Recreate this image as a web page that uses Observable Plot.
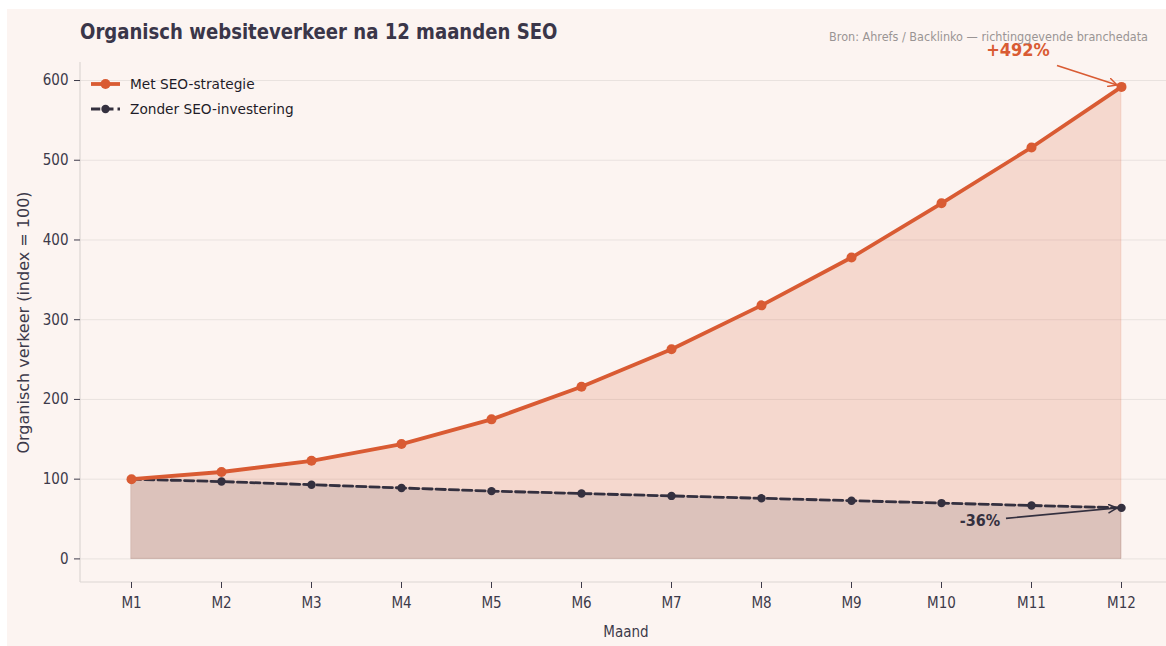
<!DOCTYPE html>
<html>
<head>
<meta charset="utf-8">
<script src="https://cdn.jsdelivr.net/npm/d3@7"></script>
<script src="https://cdn.jsdelivr.net/npm/@observablehq/plot@0.6"></script>
<style>
  html, body { margin: 0; padding: 0; background: #ffffff; overflow: hidden; width: 1166px; height: 646px; }
  #panel { position: absolute; left: 7px; top: 9px; width: 1159px; height: 637px; background: #fcf4f1; }
  #chart { position: absolute; left: 0; top: 0; width: 1166px; height: 646px; overflow: hidden; }
  #chart svg { max-width: none !important; width: 1171px !important; height: 646px !important; }
  #title { position: absolute; left: 80px; top: 19px; font-family: "DejaVu Sans Condensed", "DejaVu Sans", sans-serif; font-weight: bold; font-size: 22px; color: #3a3649; white-space: nowrap; transform: scaleX(0.914); transform-origin: left center; }
  #source { position: absolute; right: 18px; top: 29px; font-family: "DejaVu Sans Condensed", "DejaVu Sans", sans-serif; font-size: 12.5px; color: #9a9494; white-space: nowrap; }
  #legend { position: absolute; left: 89px; top: 71px; font-family: "DejaVu Sans", sans-serif; font-size: 13.7px; color: #1f1c28; }
  #legend .item { display: flex; align-items: center; height: 25px; }
  #legend svg { margin-right: 7px; }
</style>
</head>
<body>
<div id="panel"></div>
<div id="chart"></div>
<div id="title">Organisch websiteverkeer na 12 maanden SEO</div>
<div id="source">Bron: Ahrefs / Backlinko — richtinggevende branchedata</div>
<div id="legend"></div>
<script>
// ---- data ----
const months = ["M1","M2","M3","M4","M5","M6","M7","M8","M9","M10","M11","M12"];
const withSeo = [100, 109, 123, 144, 175, 216, 263, 318, 378, 446, 516, 592];
const withoutSeo = [100, 97, 93, 89, 85, 82, 79, 76, 73, 70, 67, 64];
const seriesNames = ["Met SEO-strategie", "Zonder SEO-investering"];
const yTicks = [0, 100, 200, 300, 400, 500, 600];
const annotations = [
  {label: "+492%", series: 0},
  {label: "-36%", series: 1}
];

// ---- styles ----
const ORANGE = "#d95b33";
const DARK = "#34303f";
const TEXT = "#3d3a4a";
const GRID = "#e9e2df";
const SPINE = "#dcd6d4";
const COND = "DejaVu Sans Condensed, DejaVu Sans, sans-serif";

const seo = months.map((m, i) => ({month: m, value: withSeo[i]}));
const noSeo = months.map((m, i) => ({month: m, value: withoutSeo[i]}));

const yDomain = [-29.6, 622.6];

function spines(index, scales, values, dims) {
  const g = d3.create("svg:g");
  const x0 = dims.marginLeft, x1 = dims.width - dims.marginRight;
  const y0 = dims.marginTop, y1 = dims.height - dims.marginBottom;
  g.append("line").attr("x1", x0).attr("x2", x0).attr("y1", y0).attr("y2", y1).attr("stroke", SPINE).attr("stroke-width", 1.2);
  g.append("line").attr("x1", x0).attr("x2", x1).attr("y1", y1).attr("y2", y1).attr("stroke", SPINE).attr("stroke-width", 1.2);
  return g.node();
}

function annotate(index, scales, values, dims) {
  const g = d3.create("svg:g");
  const defs = g.append("defs");
  [["a0", ORANGE], ["a1", DARK]].forEach(([id, c]) => {
    defs.append("marker").attr("id", id).attr("viewBox", "0 0 10 10").attr("refX", 9).attr("refY", 5)
      .attr("markerWidth", 10).attr("markerHeight", 10).attr("markerUnits", "userSpaceOnUse").attr("orient", "auto")
      .append("path").attr("d", "M0,0.5 L9,5 L0,9.5").attr("fill", "none").attr("stroke", c).attr("stroke-width", 1.5);
  });
  const last = months.length - 1;
  {
    const px = scales.x(months[last]), py = scales.y(withSeo[last]);
    g.append("line").attr("x1", px - 64).attr("y1", py - 21).attr("x2", px - 4).attr("y2", py - 1.5)
      .attr("stroke", ORANGE).attr("stroke-width", 1.6).attr("marker-end", "url(#a0)");
    g.append("text").attr("x", px - 103).attr("y", py - 30).attr("text-anchor", "middle")
      .attr("font-family", COND).attr("font-weight", "bold").attr("font-size", 18).attr("fill", ORANGE).text(annotations[0].label);
  }
  {
    const px = scales.x(months[last]), py = scales.y(withoutSeo[last]);
    g.append("line").attr("x1", px - 115).attr("y1", py + 11).attr("x2", px - 4).attr("y2", py + 0.5)
      .attr("stroke", DARK).attr("stroke-width", 1.6).attr("marker-end", "url(#a1)");
    g.append("text").attr("x", px - 141).attr("y", py + 19).attr("text-anchor", "middle")
      .attr("font-family", COND).attr("font-weight", "bold").attr("font-size", 16).attr("fill", DARK).text(annotations[1].label);
  }
  return g.node();
}

const chart = Plot.plot({
  width: 1171,
  height: 646,
  marginLeft: 80,
  marginRight: 0,
  marginTop: 62,
  marginBottom: 64,
  style: {background: "transparent", color: TEXT, fontFamily: COND, fontSize: "15px", overflow: "visible"},
  x: {type: "point", domain: months, padding: 0.55},
  y: {domain: yDomain, ticks: yTicks},
  marks: [
    Plot.ruleY(yTicks, {stroke: GRID, strokeWidth: 1}),
    Plot.areaY(seo, {x: "month", y: "value", fill: ORANGE, fillOpacity: 0.18, stroke: ORANGE, strokeOpacity: 0.12}),
    Plot.areaY(noSeo, {x: "month", y: "value", fill: DARK, fillOpacity: 0.13, stroke: DARK, strokeOpacity: 0.1}),
    spines,
    Plot.line(noSeo, {x: "month", y: "value", stroke: DARK, strokeWidth: 2.8, strokeDasharray: "9.25,4"}),
    Plot.dot(noSeo, {x: "month", y: "value", fill: DARK, r: 4.2, stroke: null}),
    Plot.line(seo, {x: "month", y: "value", stroke: ORANGE, strokeWidth: 3.8}),
    Plot.dot(seo, {x: "month", y: "value", fill: ORANGE, r: 5, stroke: null}),
    Plot.axisY({ticks: yTicks, tickSize: 6, tickPadding: 6, stroke: TEXT, fill: TEXT, fontSize: 15, label: null}),
    Plot.axisX({tickSize: 6, tickPadding: 9, stroke: TEXT, fill: TEXT, fontSize: 15, label: null}),
    Plot.text(["Organisch verkeer (index = 100)"], {frameAnchor: "left", dx: -57, rotate: -90, textAnchor: "middle", lineAnchor: "middle", fontSize: 16, fill: TEXT, fontFamily: "DejaVu Sans, sans-serif"}),
    Plot.text(["Maand"], {frameAnchor: "bottom", dy: 50, textAnchor: "middle", lineAnchor: "middle", fontSize: 15, fill: TEXT}),
    annotate
  ]
});
document.getElementById("chart").appendChild(chart);

// legend
const legend = document.getElementById("legend");
[[ORANGE, 3.8, null, 5, seriesNames[0]], [DARK, 2.8, "9.25,4", 4.2, seriesNames[1]]].forEach(([c, w, dash, r, name]) => {
  const item = document.createElement("div");
  item.className = "item";
  const s = d3.create("svg").attr("width", 34).attr("height", 14);
  s.append("line").attr("x1", 2).attr("x2", 31).attr("y1", 7).attr("y2", 7).attr("stroke", c).attr("stroke-width", w).attr("stroke-dasharray", dash);
  s.append("circle").attr("cx", 16.5).attr("cy", 7).attr("r", r).attr("fill", c);
  item.appendChild(s.node());
  const t = document.createElement("span");
  t.textContent = name;
  item.appendChild(t);
  legend.appendChild(item);
});
</script>
</body>
</html>
